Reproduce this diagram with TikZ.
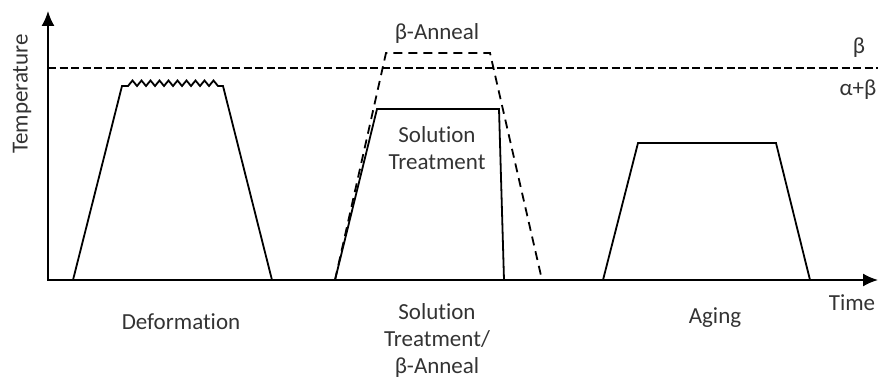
\documentclass[tikz,border=0pt]{standalone}
\usepackage{fontspec}
\setmainfont{Carlito}[Ligatures=NoCommon]
\usetikzlibrary{arrows.meta, positioning, calc}

\begin{document}
\begin{tikzpicture}[x=1pt, y=-1pt, line width=1.8pt,
    lbl/.style={font=\fontsize{23}{27}\selectfont, text=black!80, align=center, inner sep=0pt}]
    \useasboundingbox (0,0) rectangle (878,379);

    % Axes
    \coordinate (O) at (48,280);
    \coordinate (Ytip) at (48,11);
    \coordinate (Xtip) at (878,280);
    \draw[{Latex[length=15pt,width=13pt]}-{Latex[length=15pt,width=13pt]}, line join=miter] (Ytip) -- (O) -- (Xtip);

    % Beta transus
    \coordinate (B0) at (48,68);
    \coordinate (B1) at (878,68);
    \draw[dash pattern=on 8pt off 3.5pt] (B0) -- (B1);

    % Deformation
    \coordinate (D0) at (73,280);
    \coordinate (D1) at (122,86);
    \coordinate (D2) at (223,86);
    \coordinate (D3) at (272,280);
    \draw[line join=miter] (D0) -- (D1) -- (128,86)
        \foreach \k in {0,...,9} { -- ({128+9*\k+4.5},80.5) -- ({128+9*(\k+1)},86) }
        -- (D2) -- (D3);

    % Solution treatment
    \coordinate (S0) at (335,280);
    \coordinate (S1) at (377,109);
    \coordinate (S2) at (499,109);
    \coordinate (S3) at (504,280);
    \draw[line join=miter] (S0) -- (S1) -- (S2) -- (S3);

    % Beta anneal
    \coordinate (A1) at (386,53);
    \coordinate (A2) at (490,53);
    \coordinate (A3) at (542,280);
    \draw[dash pattern=on 9pt off 6pt, line join=miter] (S0) -- (A1) -- (A2) -- (A3);

    % Aging
    \coordinate (G0) at (603,280);
    \coordinate (G1) at (638,143);
    \coordinate (G2) at (776,143);
    \coordinate (G3) at (810,280);
    \draw[line join=miter] (G0) -- (G1) -- (G2) -- (G3);

    % Labels
    \node[lbl, rotate=90] (temp) at (22,94) {Temperature};
    \node[lbl, anchor=east] (time) at (876,303) {Time};
    \node[lbl] (beta) at (859,48) {β};
    \node[lbl] (albe) at (858,90) {α+β};
    \node[lbl] (anneal) at (437,34) {β-Anneal};
    \node[lbl] (soltr) at (437,148) {Solution\\Treatment};
    \node[lbl] (deform) at (181,322) {Deformation};
    \node[lbl] (stba) at (437,340) {Solution\\Treatment/\\β-Anneal};
    \node[lbl] (aging) at (715,318) {Aging};
\end{tikzpicture}
\end{document}
